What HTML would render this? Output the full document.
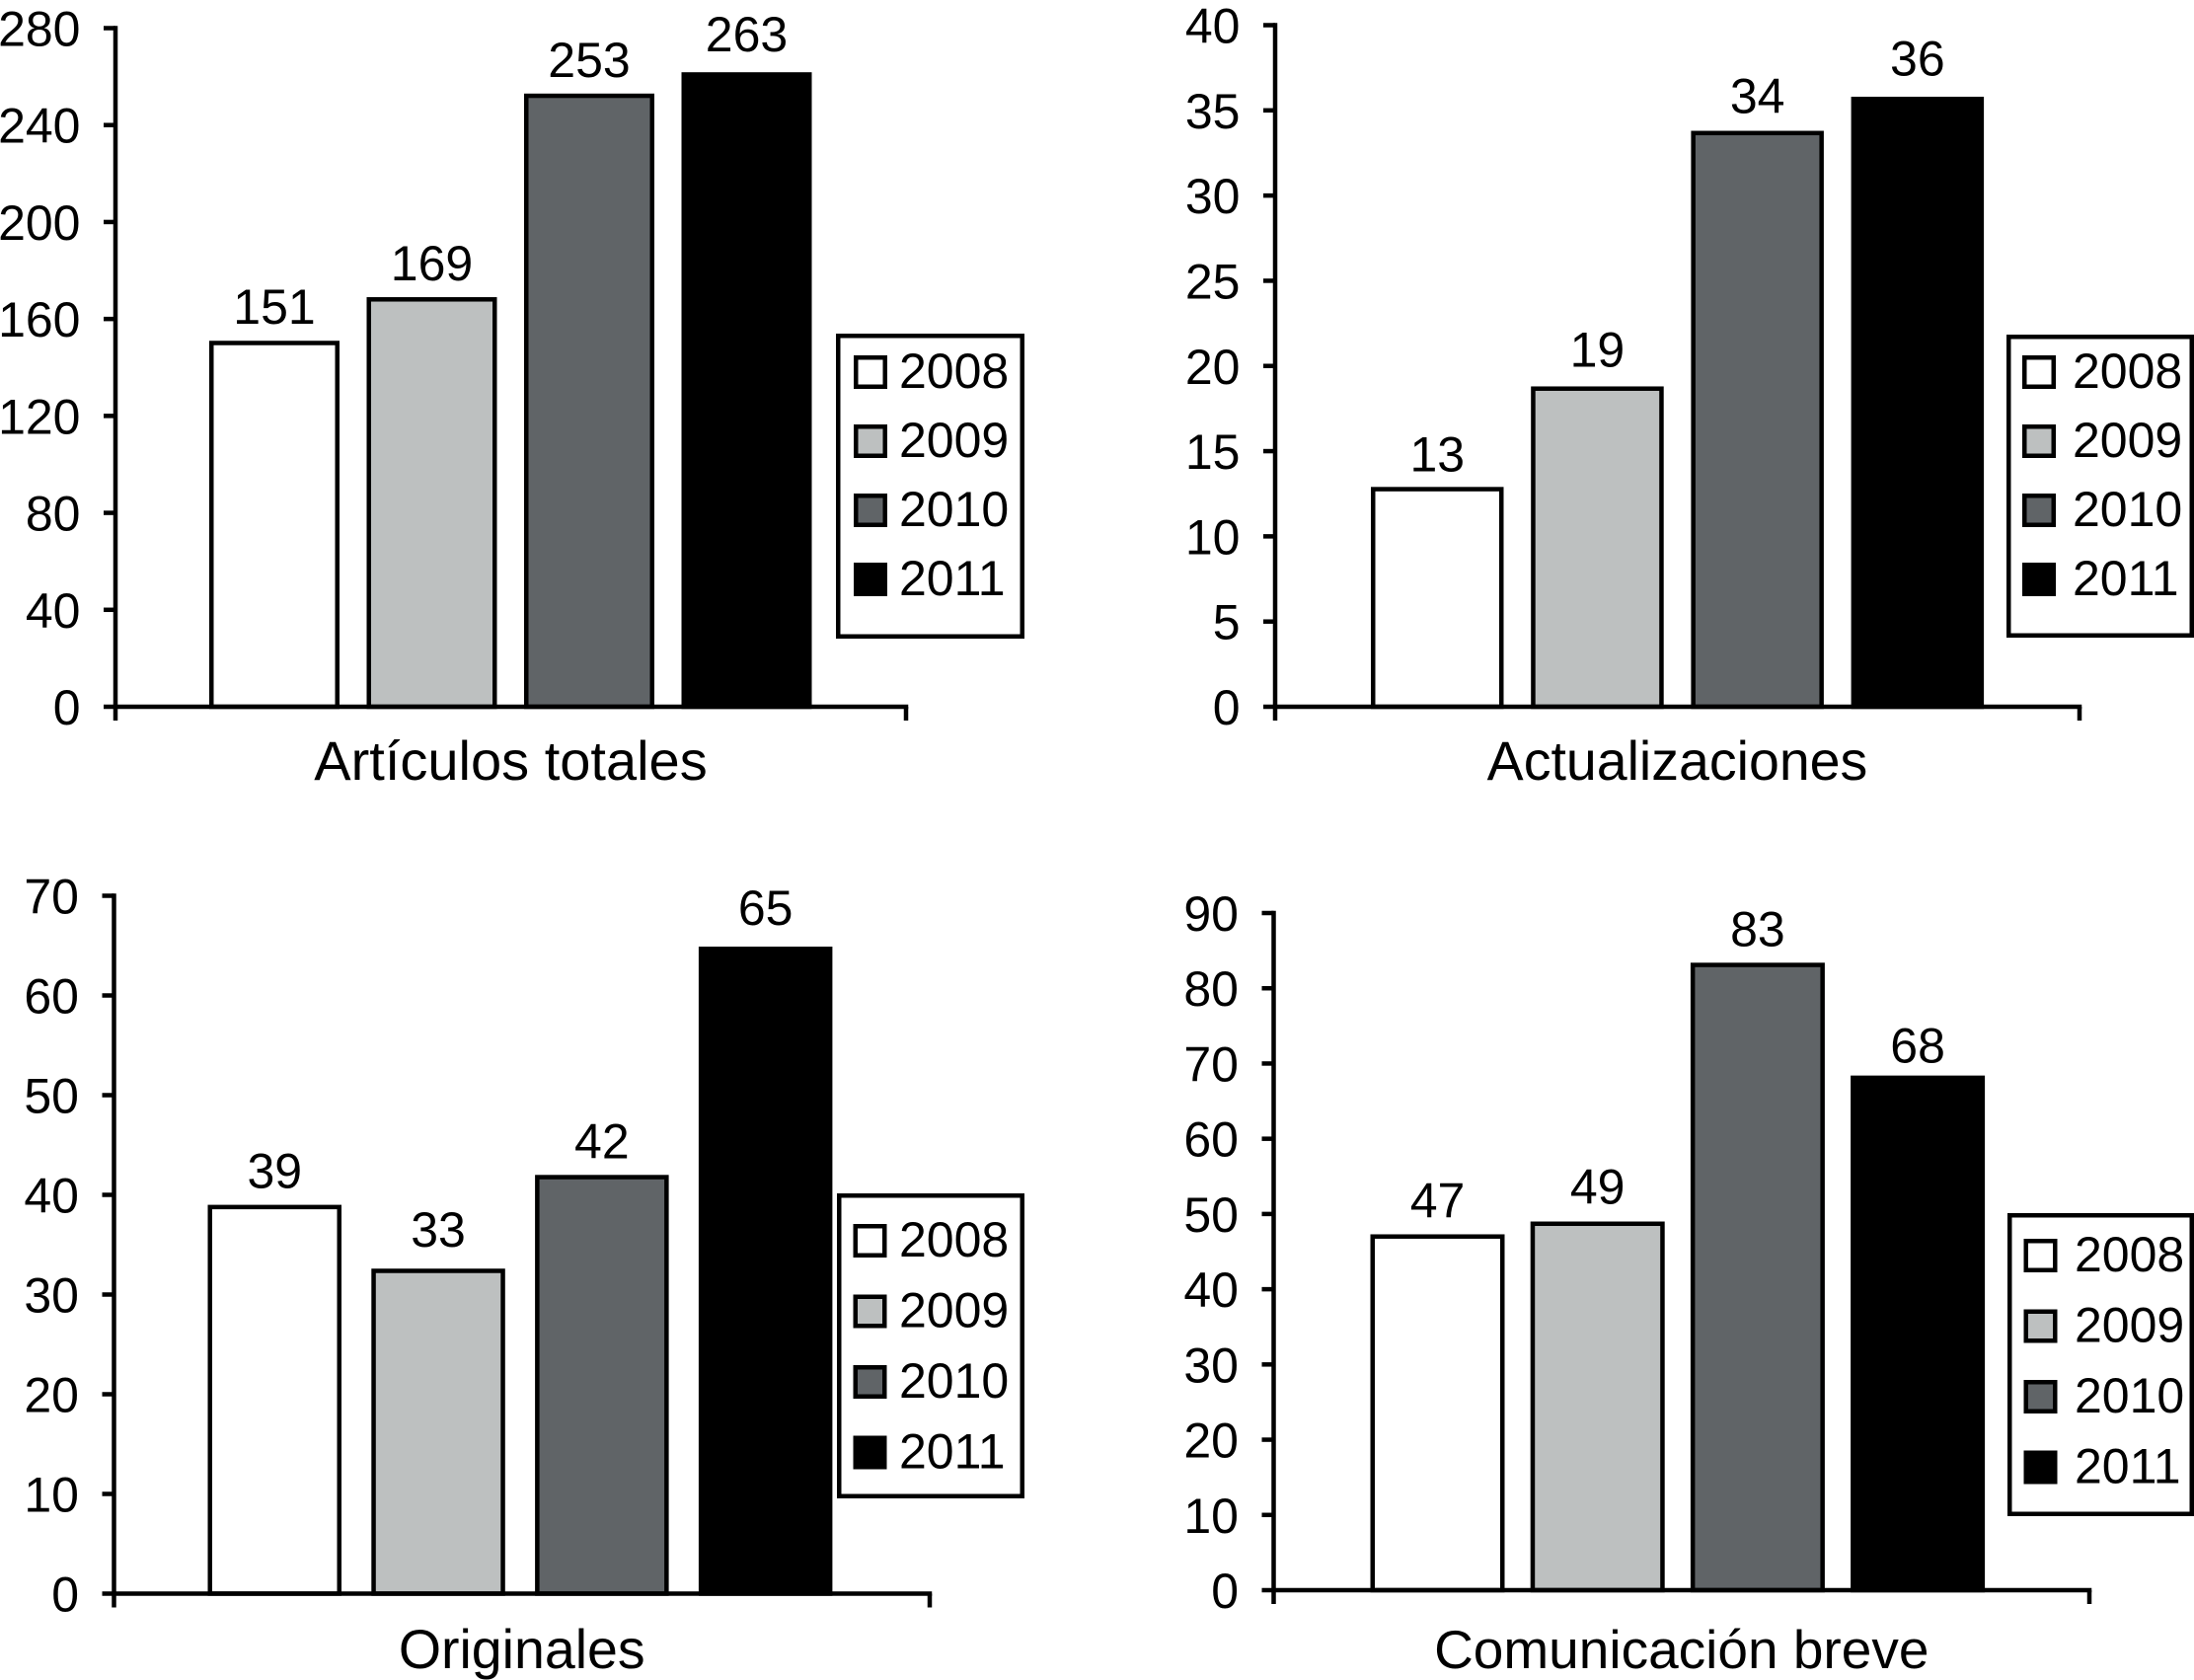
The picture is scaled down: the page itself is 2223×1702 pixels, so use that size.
<!DOCTYPE html>
<html lang="es">
<head>
<meta charset="utf-8">
<title>Artículos por tipo y año</title>
<style>
html,body{margin:0;padding:0;background:#fff;width:2223px;height:1702px;overflow:hidden}
svg{display:block}
text{font-family:"Liberation Sans",Arial,sans-serif;fill:#000}
</style>
</head>
<body>
<svg id="figure" xmlns="http://www.w3.org/2000/svg" width="2223" height="1702" viewBox="0 0 2223 1702"></svg>
<script>
// Shared categories
const years = ['2008', '2009', '2010', '2011'];

// Artículos totales
const totalesTicks = [0, 40, 80, 120, 160, 200, 240, 280];
const totalesValues = [151, 169, 253, 261.8];
const totalesPrinted = ['151', '169', '253', '263'];

// Actualizaciones
const actualizacionesTicks = [0, 5, 10, 15, 20, 25, 30, 35, 40];
const actualizacionesValues = [12.9, 18.8, 33.8, 35.8];
const actualizacionesPrinted = ['13', '19', '34', '36'];

// Originales
const originalesTicks = [0, 10, 20, 30, 40, 50, 60, 70];
const originalesValues = [39, 32.6, 42, 64.9];
const originalesPrinted = ['39', '33', '42', '65'];

// Comunicación breve
const comunicacionTicks = [0, 10, 20, 30, 40, 50, 60, 70, 80, 90];
const comunicacionValues = [47.3, 49, 83.4, 68.4];
const comunicacionPrinted = ['47', '49', '83', '68'];

const fills = ['#ffffff', '#bdc0c0', '#606467', '#000000'];
const NS = 'http://www.w3.org/2000/svg';
const svg = document.getElementById('figure');

const panels = [
  {key: 'articulos-totales', title: 'Artículos totales', titleSize: 56, ticks: totalesTicks, values: totalesValues, printed: totalesPrinted,
   axisX: 117, axisEnd: 918, base: 716, top: 28.5, bandStart: 212, step: 159.5, barW: 132, titleY: 790, labelGaps: [17, 17, 17, 21],
   legend: {x0: 847, x1: 1038, y0: 338, y1: 647, swX: 865, swY: 360, rowStep: 70, textX: 911}},
  {key: 'actualizaciones', title: 'Actualizaciones', titleSize: 55.5, ticks: actualizacionesTicks, values: actualizacionesValues, printed: actualizacionesPrinted,
   axisX: 1292, axisEnd: 2107, base: 716, top: 25.5, bandStart: 1389, step: 162.2, barW: 134.5, titleY: 790, labelGaps: [16, 20, 18, 21.5],
   legend: {x0: 2033, x1: 2223, y0: 339, y1: 646, swX: 2049, swY: 360, rowStep: 70, textX: 2100}},
  {key: 'originales', title: 'Originales', titleSize: 55.5, ticks: originalesTicks, values: originalesValues, printed: originalesPrinted,
   axisX: 115.5, axisEnd: 942, base: 1614.5, top: 907.5, bandStart: 210.5, step: 165.8, barW: 135.5, titleY: 1690, labelGaps: [17, 22, 17, 22],
   legend: {x0: 848, x1: 1038, y0: 1209, y1: 1518, swX: 864.5, swY: 1240, rowStep: 71.5, textX: 911}},
  {key: 'comunicacion-breve', title: 'Comunicación breve', titleSize: 55, ticks: comunicacionTicks, values: comunicacionValues, printed: comunicacionPrinted,
   axisX: 1290.5, axisEnd: 2117, base: 1611, top: 925, bandStart: 1388.5, step: 162.2, barW: 136, titleY: 1690, labelGaps: [17, 18, 17, 13],
   legend: {x0: 2034, x1: 2223, y0: 1229, y1: 1536, swX: 2050.5, swY: 1255, rowStep: 71.5, textX: 2102}}
];

const LINE = 4.5;
const FONT = 50;

function make(tag, attrs, parent) {
  const el = document.createElementNS(NS, tag);
  for (const k in attrs) el.setAttribute(k, attrs[k]);
  parent.appendChild(el);
  return el;
}

function drawPanel(p) {
  const maxTick = p.ticks[p.ticks.length - 1];
  const yScale = v => p.base - (v / maxTick) * (p.base - p.top);
  const xBand = i => p.bandStart + i * p.step;

  const g = make('g', {}, svg);
  
  

  // bars (outer edge of the outline sits on the value)
  p.values.forEach((v, i) => {
    const top = yScale(v);
    const bar = make('rect', {
      x: xBand(i) + LINE / 2, y: top + LINE / 2,
      width: p.barW - LINE, height: Math.max(0, p.base - top - LINE / 2),
      fill: fills[i], stroke: '#000', 'stroke-width': LINE
    }, g);
    
    

    const label = make('text', {
      x: xBand(i) + p.barW / 2, y: top - p.labelGaps[i],
      'font-size': FONT, 'text-anchor': 'middle'
    }, g);
    label.textContent = p.printed[i];
    
    
  });

  // y axis
  const yAxis = make('line', {x1: p.axisX, x2: p.axisX, y1: p.top - LINE / 2, y2: p.base + 14, stroke: '#000', 'stroke-width': LINE}, g);
  
  

  p.ticks.forEach(t => {
    const y = yScale(t);
    const tick = make('line', {x1: p.axisX - 12, x2: p.axisX, y1: y, y2: y, stroke: '#000', 'stroke-width': LINE}, g);
    
    

    const tickLabel = make('text', {x: p.axisX - 35.5, y: y + 18, 'font-size': FONT, 'text-anchor': 'end'}, g);
    tickLabel.textContent = String(t);
    
    
  });

  // x axis
  const xAxis = make('line', {x1: p.axisX, x2: p.axisEnd + LINE / 2, y1: p.base, y2: p.base, stroke: '#000', 'stroke-width': LINE}, g);
  
  

  const endTick = make('line', {x1: p.axisEnd, x2: p.axisEnd, y1: p.base, y2: p.base + 14, stroke: '#000', 'stroke-width': LINE}, g);
  
  

  // title
  const title = make('text', {x: (p.axisX + p.axisEnd) / 2, y: p.titleY, 'font-size': p.titleSize, 'text-anchor': 'middle'}, g);
  title.textContent = p.title;
  
  

  // legend
  const L = p.legend;
  const lg = make('g', {}, g);
  
  

  const box = make('rect', {
    x: L.x0 + LINE / 2, y: L.y0 + LINE / 2,
    width: L.x1 - L.x0 - LINE, height: L.y1 - L.y0 - LINE,
    fill: '#fff', stroke: '#000', 'stroke-width': LINE
  }, lg);
  
  

  years.forEach((yr, i) => {
    const sy = L.swY + i * L.rowStep;
    const sw = make('rect', {
      x: L.swX + LINE / 2, y: sy + LINE / 2, width: 34 - LINE, height: 34 - LINE,
      fill: fills[i], stroke: '#000', 'stroke-width': LINE
    }, lg);
    
    

    const tx = make('text', {x: L.textX, y: sy + 33, 'font-size': FONT}, lg);
    tx.textContent = yr;
    
    
  });
}

panels.forEach(drawPanel);
</script>
</body>
</html>
